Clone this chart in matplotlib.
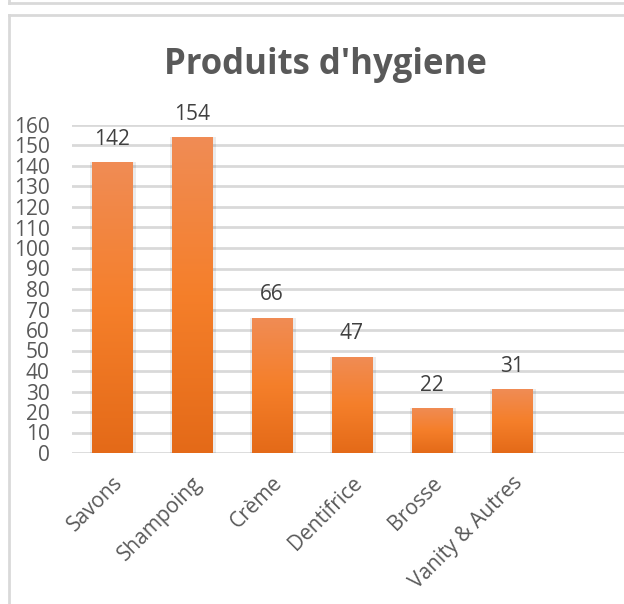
import matplotlib.pyplot as plt
import numpy as np
from matplotlib.colors import LinearSegmentedColormap
from matplotlib.lines import Line2D

produits = ['Savons', 'Shampoing', 'Crème', 'Dentifrice', 'Brosse', 'Vanity & Autres']
quantites = [142, 154, 66, 47, 22, 31]
y_ticks = list(range(0, 170, 10))

gris = '#595959'
plt.rcParams['font.family'] = ['Open Sans', 'DejaVu Sans']

fig = plt.figure(figsize=(6.24, 6.04), dpi=100)
ax = fig.add_axes([72 / 624, 1 - 453 / 604, 1 - 72 / 624, (453 - 125) / 604])

# degrade orange des barres (clair en haut, fonce en bas)
cmap = LinearSegmentedColormap.from_list('orange', ['#E46A18', '#F57F2A', '#F08C55'])
grad = np.linspace(0, 1, 256).reshape(-1, 1)

x = np.arange(len(produits))
largeur = 0.51
bars = ax.bar(x, quantites, width=largeur, color='none', zorder=3)
for b, v in zip(bars, quantites):
    x0 = b.get_x()
    # ombre legere
    ax.bar(b.get_x() + largeur / 2 + 0.015, v, width=largeur + 0.06, color='#000000',
           alpha=0.08, zorder=2)
    im = ax.imshow(grad, cmap=cmap, origin='lower', aspect='auto',
                   extent=(x0, x0 + largeur, 0, v), zorder=3)
    im.set_clip_path(b)
    ax.text(b.get_x() + largeur / 2, v + 6, str(v), ha='center', va='bottom',
            fontsize=15, color='#404040', clip_on=False)

ax.set_xlim(-0.5, 6.4)
ax.set_ylim(0, 160)
ax.set_yticks(y_ticks)
ax.yaxis.grid(True, color='#D9D9D9', linewidth=2, zorder=0)
ax.set_axisbelow(True)
for s in ax.spines.values():
    s.set_visible(False)
ax.tick_params(axis='both', length=0, colors=gris, labelsize=15)
ax.tick_params(axis='y', pad=16)
ax.set_xticks(x)
ax.set_xticklabels(produits, rotation=45, ha='right', rotation_mode='anchor')
ax.tick_params(axis='x', pad=14)

fig.text(325 / 624, 1 - 65 / 604, "Produits d'hygiene", ha='center', va='center',
         fontsize=25, fontweight='bold', color=gris)

# cadres du graphique
bord = '#D9D9D9'
fig.add_artist(Line2D([9 / 624, 1], [1 - 15 / 604] * 2, color=bord, lw=2))
fig.add_artist(Line2D([9 / 624] * 2, [0, 1 - 15 / 604], color=bord, lw=2))
fig.add_artist(Line2D([9 / 624, 1], [1 - 3 / 604] * 2, color=bord, lw=2))
fig.add_artist(Line2D([9 / 624] * 2, [1 - 3 / 604, 1], color=bord, lw=2))

fig.savefig('out.png', dpi=100)
